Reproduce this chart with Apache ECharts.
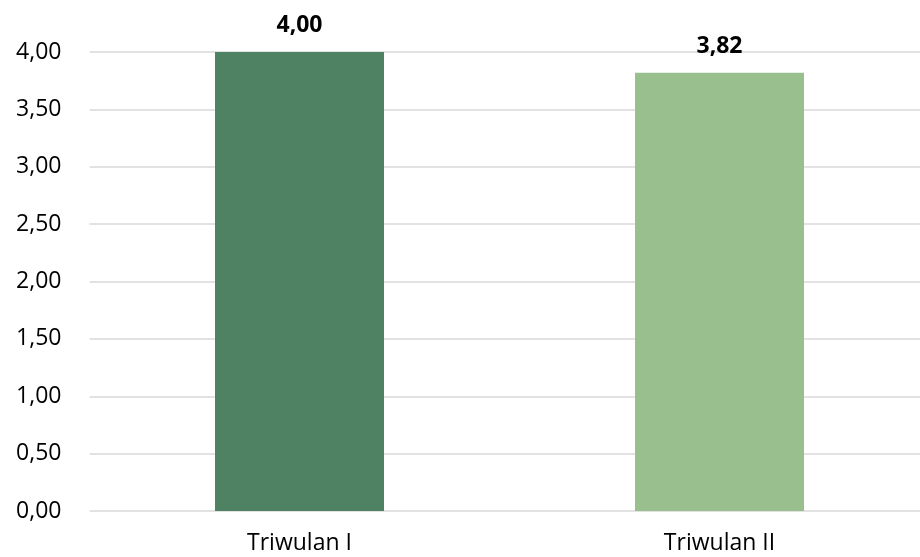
<!DOCTYPE html>
<html>
<head>
<meta charset="utf-8">
<script src="https://cdn.jsdelivr.net/npm/echarts@6/dist/echarts.min.js"></script>
<style>html,body{margin:0;padding:0;background:#fff;overflow:hidden;width:920px;height:557px}#c{width:930px;height:557px}</style>
</head>
<body>
<div id="c"></div>
<script>
const categories = ['Triwulan I', 'Triwulan II'];
const values = [4.00, 3.82];
const barColors = ['#4F8163', '#9ABF8F'];
const yTicks = [0, 0.5, 1, 1.5, 2, 2.5, 3, 3.5, 4];

const fmt = v => Number(v).toFixed(2).replace('.', ',');
const font = '"Open Sans", Carlito, Calibri, sans-serif';

const chart = echarts.init(document.getElementById('c'), null, {renderer: 'canvas'});
chart.setOption({
  animation: false,
  grid: {left: 89.5, right: 0.5, top: 52, bottom: 46, containLabel: false},
  xAxis: {
    type: 'category',
    data: categories,
    axisLine: {show: false},
    axisTick: {show: false},
    axisLabel: {fontFamily: font, fontSize: 23, color: '#000', margin: 21}
  },
  yAxis: {
    type: 'value',
    min: yTicks[0],
    max: yTicks[yTicks.length - 1],
    interval: 0.5,
    axisLine: {show: false},
    axisTick: {show: false},
    splitLine: {lineStyle: {color: '#D9D9D9', width: 1.5}},
    axisLabel: {fontFamily: font, fontSize: 23, color: '#000', margin: 28, formatter: fmt}
  },
  series: [{
    type: 'bar',
    barWidth: 169,
    data: values.map((v, i) => ({value: v, itemStyle: {color: barColors[i]}})),
    label: {
      show: true,
      position: 'top',
      distance: 15,
      fontFamily: font,
      fontSize: 23,
      fontWeight: 'bold',
      color: '#000',
      formatter: p => fmt(p.value)
    }
  }]
});
</script>
</body>
</html>
